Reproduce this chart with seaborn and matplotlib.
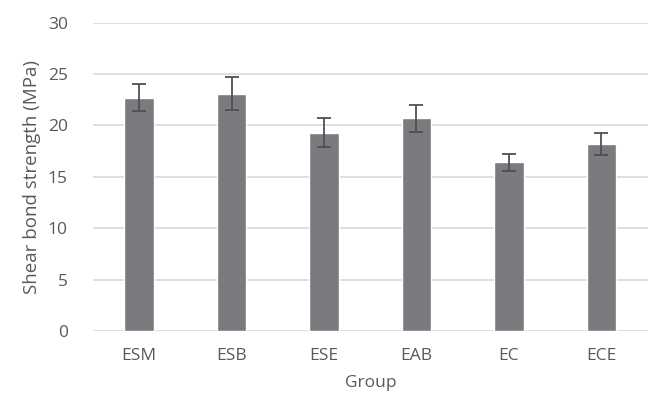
import numpy as np
import pandas as pd
import seaborn as sns
import matplotlib.pyplot as plt

groups = ['ESM', 'ESB', 'ESE', 'EAB', 'EC', 'ECE']
strength = [22.7, 23.1, 19.3, 20.7, 16.4, 18.2]  # mean shear bond strength (MPa)
sd = [1.3, 1.6, 1.4, 1.3, 0.85, 1.1]

df = pd.DataFrame({'Group': groups, 'Strength': strength, 'SD': sd})

sns.set_style('white')
plt.rcParams['font.family'] = ['Open Sans', 'DejaVu Sans']

fig = plt.figure(figsize=(6.49, 4.05), dpi=100)
ax = fig.add_axes([0.143, 0.183, 0.855, 0.761])

sns.barplot(data=df, x='Group', y='Strength', color='#7a7b7f', saturation=1,
            width=0.32, errorbar=None, ax=ax, zorder=3)
ax.errorbar(np.arange(len(groups)), df['Strength'], yerr=df['SD'], fmt='none',
            ecolor='#505050', elinewidth=1.3, capsize=5, capthick=1.3, zorder=4)

ax.set_ylim(0, 30)
ax.set_yticks(range(0, 31, 5))
ax.set_xlim(-0.5, len(groups) - 0.5)
ax.grid(axis='y', color='#d9d9d9', linewidth=1.2, zorder=0)
ax.set_axisbelow(True)
for s in ['top', 'right', 'left', 'bottom']:
    ax.spines[s].set_visible(False)
ax.tick_params(axis='both', length=0, labelsize=12.5, colors='#595959')
ax.tick_params(axis='y', pad=18)
ax.tick_params(axis='x', pad=12)
ax.set_xlabel('Group', fontsize=12.5, color='#595959', labelpad=8)
ax.set_ylabel('Shear bond strength (MPa)', fontsize=13.5, color='#595959', labelpad=5)

plt.savefig('out.png', dpi=100)
